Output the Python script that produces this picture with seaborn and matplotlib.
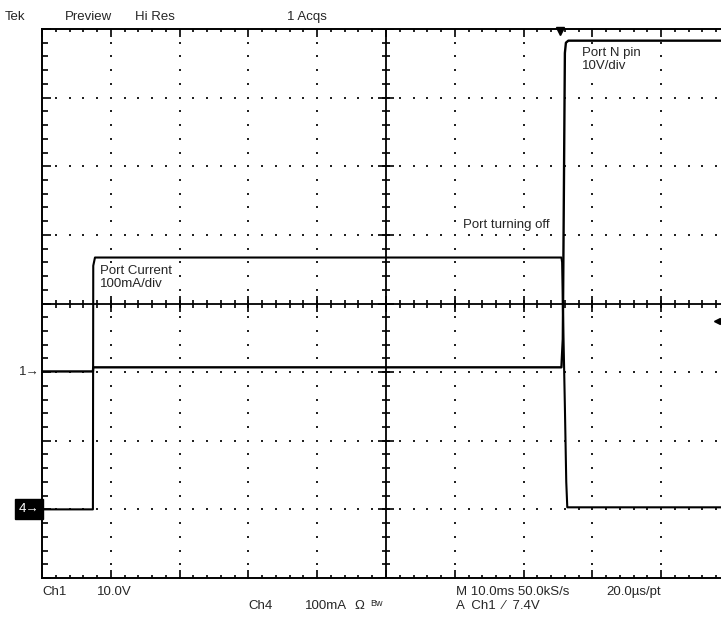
import numpy as np
import pandas as pd
import matplotlib
matplotlib.use("Agg")
import matplotlib.pyplot as plt
import seaborn as sns

# Ch1 = Port N pin voltage, Ch4 = port current; time from left edge of screen
ch1_time_ms = [0, 7.4, 7.45, 75.5, 75.7, 76.0, 76.15, 76.5, 100]
ch1_volts = [0.1, 0.1, 0.7, 0.7, 4.8, 46.5, 48.0, 48.3, 48.3]
ch4_time_ms = [0, 7.4, 7.45, 7.7, 75.5, 75.6, 75.7, 76.0, 76.2, 76.35, 100]
ch4_milliamps = [0, 0, 355, 367, 367, 360, 300, 150, 40, 3, 3]

ch1_volts_per_div = 10
ch4_ma_per_div = 100
ch1_offset_div = -1.0
ch4_offset_div = -3.0
trigger_time_ms = 75.3
trigger_level_v = 7.4

header = [("Tek", 5), ("Preview", 65), ("Hi Res", 135), ("1 Acqs", 287)]
footer_row1 = [("Ch1", 42), ("10.0V", 97), ("M 10.0ms 50.0kS/s", 456), ("20.0\u00b5s/pt", 606)]
footer_row2 = [("Ch4", 248), ("100mA", 305), ("\u03a9", 354), ("A  Ch1  \u2044  7.4V", 456)]

sns.set_style("white")
plt.rcParams["font.family"] = ["Liberation Sans", "DejaVu Sans"]

W, H = 721, 627
fig = plt.figure(figsize=(W / 100, H / 100), dpi=100)
ax = fig.add_axes([42 / W, (H - 578) / H, 688 / W, 549 / H])
ax.set_xlim(0, 100)
ax.set_ylim(-4, 4)

v_df = pd.DataFrame({"t": ch1_time_ms,
                     "div": np.array(ch1_volts) / ch1_volts_per_div + ch1_offset_div})
i_df = pd.DataFrame({"t": ch4_time_ms,
                     "div": np.array(ch4_milliamps) / ch4_ma_per_div + ch4_offset_div})
sns.lineplot(data=v_df, x="t", y="div", ax=ax, color="black", lw=1.7,
             estimator=None, sort=False, zorder=5)
sns.lineplot(data=i_df, x="t", y="div", ax=ax, color="black", lw=1.5,
             estimator=None, sort=False, zorder=5)

# graticule dots
for k in range(1, 10):
    if k == 5:
        continue
    ys = np.arange(-4, 4.001, 0.2)
    ax.scatter(np.full_like(ys, 10 * k), ys, s=1.4, marker="s", color="#222", lw=0)
for j in range(-3, 4):
    if j == 0:
        continue
    xs = np.arange(0, 100.001, 2)
    ax.scatter(xs, np.full_like(xs, j), s=1.4, marker="s", color="#222", lw=0)

# centre cross with ticks
ax.axhline(0, color="black", lw=1.3)
ax.axvline(50, color="black", lw=1.3)
px_x = 100 / 688
px_y = 8 / 549
ax.vlines(np.arange(0, 100.001, 2), -4 * px_y, 4 * px_y, color="black", lw=1.2)
ax.vlines(np.arange(0, 100.001, 10), -8 * px_y, 8 * px_y, color="black", lw=1.2)
ax.hlines(np.arange(-4, 4.001, 0.2), 50 - 4 * px_x, 50 + 4 * px_x, color="black", lw=1.2)
ax.hlines(np.arange(-4, 4.001, 1), 50 - 8 * px_x, 50 + 8 * px_x, color="black", lw=1.2)

# frame ticks
ax.set_xticks(np.arange(0, 100.001, 10))
ax.set_xticks(np.arange(0, 100.001, 2), minor=True)
ax.set_yticks(np.arange(-4, 4.001, 1))
ax.set_yticks(np.arange(-4, 4.001, 0.2), minor=True)
ax.tick_params(which="both", direction="in", top=True, bottom=True, left=True,
               right=False, labelbottom=False, labelleft=False, width=1.2, color="black")
ax.tick_params(axis="x", which="major", length=6)
ax.tick_params(axis="x", which="minor", length=2.5)
ax.tick_params(axis="y", which="major", length=6.5)
ax.tick_params(axis="y", which="minor", length=4.5)
for side in ["left", "top", "bottom"]:
    ax.spines[side].set_color("black")
    ax.spines[side].set_linewidth(1.4)
ax.spines["right"].set_visible(False)

# trigger markers
ax.plot([trigger_time_ms], [3.97], marker="v", color="black", ms=6, clip_on=False, zorder=6)
ax.plot([98.1], [trigger_level_v / ch1_volts_per_div + ch1_offset_div], marker="<",
        color="black", ms=5, clip_on=False, zorder=6)

# channel ground markers
ax.text(-0.4, ch1_offset_div, "1\u2192", ha="right", va="center", fontsize=9.5, clip_on=False)
ax.text(-0.4, ch4_offset_div, "4\u2192", ha="right", va="center", fontsize=9.5, color="white",
        clip_on=False, bbox=dict(boxstyle="square,pad=0.3", fc="black", ec="black"))

# annotations
box = dict(boxstyle="square,pad=0.05", fc="white", ec="none")
ax.text(8.4, 0.56, "Port Current\n100mA/div", ha="left", va="top", fontsize=9.5,
        linespacing=1.15, bbox=box, zorder=4)
ax.text(78.5, 3.74, "Port N pin\n10V/div", ha="left", va="top", fontsize=9.5,
        linespacing=1.15, bbox=box, zorder=4)
ax.text(61.2, 1.15, "Port turning off", ha="left", va="center", fontsize=9.5,
        bbox=box, zorder=4)

for label, x in header:
    fig.text(x / W, 1 - 17 / H, label, ha="left", va="center", fontsize=9.5)
for label, x in footer_row1:
    fig.text(x / W, 1 - 592 / H, label, ha="left", va="center", fontsize=9.5)
for label, x in footer_row2:
    fig.text(x / W, 1 - 606 / H, label, ha="left", va="center", fontsize=9.5)
fig.text(370 / W, 1 - 604 / H, "Bw", ha="left", va="center", fontsize=6.5)

ax.set_xlabel("")
ax.set_ylabel("")
fig.savefig("out.png", dpi=100)
